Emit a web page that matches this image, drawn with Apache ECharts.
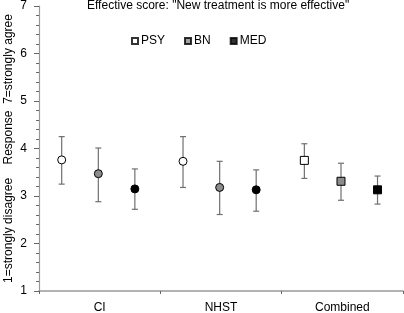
<!DOCTYPE html>
<html><head><meta charset="utf-8">
<script src="https://cdn.jsdelivr.net/npm/echarts@6/dist/echarts.min.js"></script>
<style>html,body{margin:0;padding:0;background:#fff}#c{width:404px;height:313px}</style>
</head><body><div id="c"></div>
<script>
var categories = ['CI', 'NHST', 'Combined'];
var seriesNames = ['PSY', 'BN', 'MED'];
var psyMean = [3.76, 3.73, 3.75];
var psyLow  = [3.25, 3.18, 3.37];
var psyHigh = [4.25, 4.25, 4.10];
var bnMean  = [3.47, 3.18, 3.31];
var bnLow   = [2.88, 2.61, 2.91];
var bnHigh  = [4.01, 3.73, 3.69];
var medMean = [3.15, 3.13, 3.13];
var medLow  = [2.72, 2.68, 2.83];
var medHigh = [3.57, 3.55, 3.42];
var yTicks = [1, 2, 3, 4, 5, 6, 7];

var OFFSETS = [0.187, 0.489, 0.79];
var FILLS = ['#ffffff', '#8c8c8c', '#000000'];
var FONT = 'Liberation Sans, Arial, sans-serif';

function build(m, lo, hi) {
  return categories.map(function (c, i) { return [i, m[i], lo[i], hi[i]]; });
}
var datasets = [build(psyMean, psyLow, psyHigh), build(bnMean, bnLow, bnHigh), build(medMean, medLow, medHigh)];

function makeRender(si) {
  return function (params, api) {
    var cat = api.value(0);
    var c = api.coord([cat, api.value(1)]);
    var bw = api.size([1, 0])[0];
    var x = c[0] - bw / 2 + bw * OFFSETS[si];
    var yLo = api.coord([cat, api.value(2)])[1];
    var yHi = api.coord([cat, api.value(3)])[1];
    var cap = 3;
    var lineStyle = { stroke: '#707070', lineWidth: 1.2 };
    var children = [
      { type: 'line', shape: { x1: x, y1: yHi, x2: x, y2: yLo }, style: lineStyle },
      { type: 'line', shape: { x1: x - cap, y1: yHi, x2: x + cap, y2: yHi }, style: lineStyle },
      { type: 'line', shape: { x1: x - cap, y1: yLo, x2: x + cap, y2: yLo }, style: lineStyle }
    ];
    var mStyle = { fill: FILLS[si], stroke: '#000', lineWidth: 1 };
    if (cat === 2) {
      children.push({ type: 'rect', shape: { x: x - 4, y: c[1] - 4, width: 8, height: 8 }, style: mStyle });
    } else {
      children.push({ type: 'circle', shape: { cx: x, cy: c[1], r: 4 }, style: mStyle });
    }
    return { type: 'group', children: children };
  };
}

// legend proxies (empty scatter series carrying the square legend symbol)
var legendSeries = seriesNames.map(function (n, i) {
  return {
    name: n, type: 'scatter', data: [], symbol: 'rect', symbolSize: 6,
    itemStyle: { color: FILLS[i], borderColor: '#000', borderWidth: 0.8 }
  };
});
var dataSeries = seriesNames.map(function (n, i) {
  return {
    name: n, type: 'custom', renderItem: makeRender(i),
    itemStyle: { color: FILLS[i], borderColor: '#000' },
    encode: { x: 0, y: [1, 2, 3] },
    data: datasets[i]
  };
});

var chart = echarts.init(document.getElementById('c'), null, { renderer: 'canvas' });
chart.setOption({
  animation: false,
  textStyle: { fontFamily: FONT },
  title: {
    text: 'Effective score: "New treatment is more effective"',
    left: 87, top: 0, padding: 0,
    textStyle: { fontSize: 12, fontWeight: 'normal', color: '#000', fontFamily: FONT }
  },
  legend: {
    left: 131, top: 35, itemWidth: 6, itemHeight: 6, itemGap: 19, padding: 0,
    icon: 'rect',
    textStyle: { fontSize: 12, color: '#000', fontFamily: FONT, padding: [0, 0, 0, -2] },
    data: seriesNames
  },
  grid: { left: 39, right: 1, top: 6, bottom: 22, containLabel: false, outerBoundsMode: 'none' },
  xAxis: {
    type: 'category', data: categories, boundaryGap: true,
    axisLine: { lineStyle: { color: '#999', width: 1.5 } },
    axisTick: { show: true, length: 3, lineStyle: { color: '#666' } },
    axisLabel: { fontSize: 12, color: '#000', margin: 11, fontFamily: FONT }
  },
  yAxis: {
    type: 'value', min: yTicks[0], max: yTicks[yTicks.length - 1], interval: 1,
    name: '1=strongly disagree    Response  7=strongly agree',
    nameLocation: 'middle', nameGap: 24, nameRotate: 90, nameMoveOverlap: false,
    nameTextStyle: { fontSize: 12, color: '#000', fontFamily: FONT },
    axisLine: { show: true, lineStyle: { color: '#999', width: 1.2 } },
    axisTick: { show: true, length: 5, lineStyle: { color: '#666' } },
    minorTick: { show: true, splitNumber: 5, length: 3, lineStyle: { color: '#666' } },
    splitLine: { show: false },
    axisLabel: { fontSize: 12, color: '#000', margin: 12, fontFamily: FONT }
  },
  series: legendSeries.concat(dataSeries)
});
</script></body></html>
